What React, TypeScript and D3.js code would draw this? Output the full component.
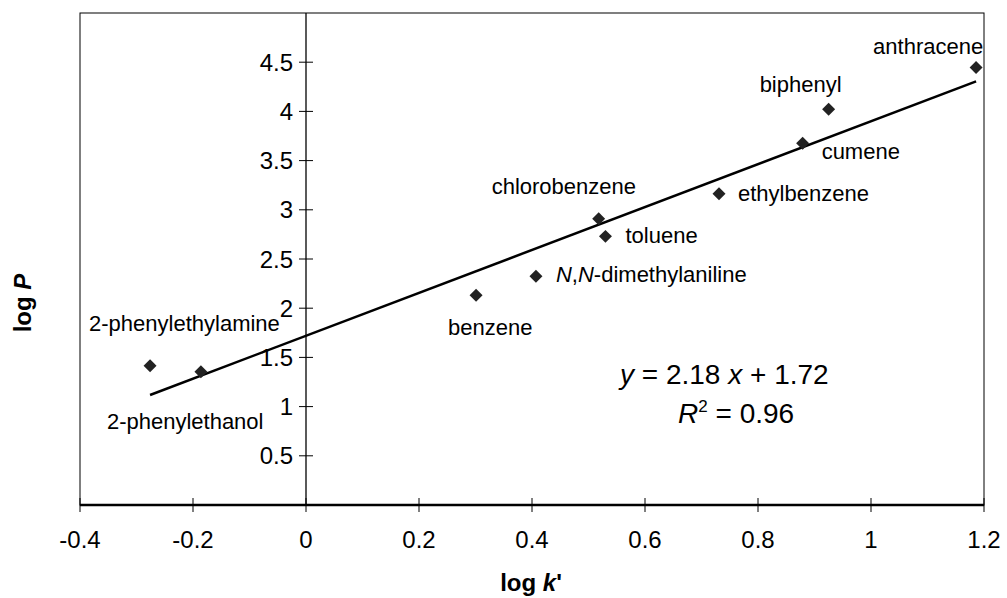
import React from "react";
import * as d3 from "d3";

const compounds = [
  "2-phenylethylamine",
  "2-phenylethanol",
  "benzene",
  "N,N-dimethylaniline",
  "chlorobenzene",
  "toluene",
  "ethylbenzene",
  "cumene",
  "biphenyl",
  "anthracene",
];
const logK = [-0.276, -0.186, 0.301, 0.407, 0.518, 0.53, 0.731, 0.879, 0.925, 1.186];
const logP = [1.415, 1.354, 2.131, 2.325, 2.909, 2.73, 3.164, 3.676, 4.022, 4.447];
// label offsets (dx, dy) in pixels relative to each marker
const labelDx = [-61, -94, -28, 20, -107, 20, 19, 19, -69, -103];
const labelDy = [-35, 57, 40, 6, -25, 7, 7, 16, -17, -13];

const xTicks = [-0.4, -0.2, 0, 0.2, 0.4, 0.6, 0.8, 1, 1.2];
const yTicks = [0.5, 1, 1.5, 2, 2.5, 3, 3.5, 4, 4.5];
const slope = 2.18;
const intercept = 1.72;
const rSquared = 0.96;

const W = 1007;
const H = 598;
const FONT = "'Liberation Sans', Arial, Helvetica, sans-serif";

export default function App() {
  const x = d3.scaleLinear().domain([-0.4, 1.2]).range([80, 984]);
  const y = d3.scaleLinear().domain([0, 5]).range([505, 13]);

  const xMin = d3.min(logK) as number;
  const xMax = d3.max(logK) as number;
  const line = d3
    .line<number>()
    .x((d) => x(d))
    .y((d) => y(slope * d + intercept));

  const diamond = d3.symbol().type(d3.symbolSquare).size(84)();

  const fmt = (v: number) => (Number.isInteger(v) ? String(v) : String(v));

  return (
    <svg
      width={W}
      height={H}
      style={{ position: "absolute", left: 0, top: 0, background: "#fff" }}
      fontFamily={FONT}
    >
      <rect x={0} y={0} width={W} height={H} fill="#fff" />
      {/* plot frame */}
      <rect
        x={x(-0.4)}
        y={y(5)}
        width={x(1.2) - x(-0.4)}
        height={y(0) - y(5)}
        fill="none"
        stroke="#000"
        strokeWidth={1}
      />
      {/* y axis at x = 0 */}
      <line x1={x(0)} x2={x(0)} y1={y(5)} y2={y(0)} stroke="#000" strokeWidth={1.3} />
      {yTicks.map((t) => (
        <g key={"yt" + t}>
          <line x1={x(0) - 7} x2={x(0) + 7} y1={y(t)} y2={y(t)} stroke="#000" strokeWidth={1} />
          <text x={x(0) - 13} y={y(t) + 8.5} fontSize={24} textAnchor="end" fill="#000">
            {fmt(t)}
          </text>
        </g>
      ))}
      {/* x axis at y = 0 */}
      <line x1={x(-0.4)} x2={x(1.2)} y1={y(0)} y2={y(0)} stroke="#000" strokeWidth={2.6} />
      {xTicks.map((t) => (
        <g key={"xt" + t}>
          <line x1={x(t)} x2={x(t)} y1={y(0) - 7} y2={y(0) + 7} stroke="#000" strokeWidth={1} />
          <text x={x(t)} y={547.5} fontSize={24} textAnchor="middle" fill="#000">
            {fmt(t)}
          </text>
        </g>
      ))}
      {/* regression line */}
      <path d={line([xMin, xMax]) || ""} stroke="#000" strokeWidth={2.5} fill="none" />
      {/* markers */}
      {logK.map((k, i) => (
        <path
          key={"m" + i}
          d={diamond || ""}
          transform={`translate(${x(k)},${y(logP[i])}) rotate(45)`}
          fill="#222"
        />
      ))}
      {/* labels */}
      {compounds.map((c, i) => {
        const lx = x(logK[i]) + labelDx[i];
        const ly = y(logP[i]) + labelDy[i];
        if (c.startsWith("N,N")) {
          return (
            <text key={"l" + i} x={lx} y={ly} fontSize={22} fill="#000">
              <tspan fontStyle="italic">N</tspan>,<tspan fontStyle="italic">N</tspan>
              {c.slice(3)}
            </text>
          );
        }
        return (
          <text key={"l" + i} x={lx} y={ly} fontSize={22} fill="#000">
            {c}
          </text>
        );
      })}
      {/* equation */}
      <text x={620} y={384} fontSize={28} fill="#000">
        <tspan fontStyle="italic">y</tspan> = {slope.toFixed(2)} <tspan fontStyle="italic">x</tspan> + {intercept.toFixed(2)}
      </text>
      <text x={678} y={423} fontSize={28} fill="#000">
        <tspan fontStyle="italic">R</tspan>
        <tspan fontSize={17} dy={-11}>2</tspan>
        <tspan dy={11}> = {rSquared.toFixed(2)}</tspan>
      </text>
      {/* axis titles */}
      <text x={531} y={591} fontSize={24} fontWeight="bold" textAnchor="middle" fill="#000">
        log <tspan fontStyle="italic">k</tspan>'
      </text>
      <text
        transform={`translate(31,${(y(0) + y(5)) / 2 + 44}) rotate(-90)`}
        fontSize={24}
        fontWeight="bold"
        textAnchor="middle"
        fill="#000"
      >
        log <tspan fontStyle="italic">P</tspan>
      </text>
    </svg>
  );
}
